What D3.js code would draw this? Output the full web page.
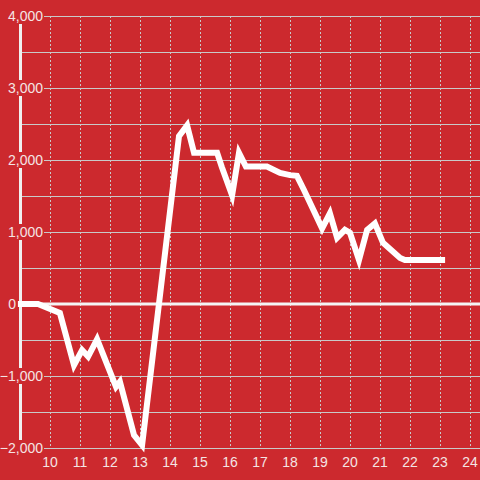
<!DOCTYPE html>
<html><head><meta charset="utf-8">
<script src="https://cdn.jsdelivr.net/npm/d3@7"></script>
<style>html,body{margin:0;padding:0;background:#cc292e;}svg{display:block;}</style>
</head><body>
<svg id="c" width="480" height="480"></svg>
<script>
const hours = [8.93, 9.6, 10.33, 10.8, 11.07, 11.27, 11.57, 12.2, 12.33, 12.8, 13.07, 14.3, 14.57, 14.8, 15.57, 15.73, 16.07, 16.3, 16.53, 17.23, 17.67, 18.0, 18.23, 18.47, 19.07, 19.33, 19.57, 19.83, 20.0, 20.3, 20.57, 20.83, 21.1, 21.67, 21.83, 23.17];
const values = [0, 0, -125, -850, -640, -730, -490, -1150, -1080, -1820, -1960, 2330, 2480, 2100, 2100, 1900, 1510, 2100, 1910, 1910, 1820, 1790, 1780, 1580, 1050, 1260, 920, 1030, 990, 610, 1030, 1120, 850, 640, 610, 610];
const xTicks = [10,11,12,13,14,15,16,17,18,19,20,21,22,23,24];
const yMajor = [-2000,-1000,0,1000,2000,3000,4000];
const yMinor = [-1500,-500,500,1500,2500,3500];

const svg = d3.select("#c");
const x = d3.scaleLinear().domain([10,24]).range([50,470]);
const y = d3.scaleLinear().domain([-2000,4000]).range([448,16]);
const grid = "#c9c9c9", txt = "#f4e4e4", bg = "#cc292e";

svg.append("rect").attr("width",480).attr("height",480).attr("fill",bg);

// vertical dashed gridlines
svg.append("g").selectAll("line").data(xTicks).join("line")
  .attr("x1",d=>x(d)+0.5).attr("x2",d=>x(d)+0.5).attr("y1",y(4000)).attr("y2",y(-2000))
  .attr("stroke",grid).attr("stroke-width",1).attr("stroke-dasharray","2,2");

// horizontal gridlines
svg.append("g").selectAll("line").data(yMajor.concat(yMinor).filter(d=>d!==0)).join("line")
  .attr("x1",20).attr("x2",480).attr("y1",d=>Math.round(y(d))+0.5).attr("y2",d=>Math.round(y(d))+0.5)
  .attr("stroke",grid).attr("stroke-width",1.2);

// y axis line
svg.append("line").attr("x1",20.5).attr("x2",20.5).attr("y1",y(4000)).attr("y2",y(-2000))
  .attr("stroke","#f0f0f0").attr("stroke-width",3);

// y labels with background
const yl = svg.append("g").selectAll("g").data(yMajor).join("g")
  .attr("transform",d=>`translate(0,${y(d)})`);
yl.filter(d=>d!==0).append("rect").attr("x",3).attr("y",-8).attr("width",41).attr("height",16).attr("fill",bg);
yl.filter(d=>d===0).append("rect").attr("x",3).attr("y",-8).attr("width",15).attr("height",16).attr("fill",bg);
yl.append("text").attr("x",d=>d===0?16:43).attr("y",0).attr("dy","0.35em").attr("text-anchor","end")
  .attr("font-family","Liberation Sans, Arial, sans-serif").attr("font-size",14).attr("fill",txt)
  .text(d=>d3.format(",")(d));

// zero line
svg.append("line").attr("x1",18).attr("x2",480).attr("y1",y(0)).attr("y2",y(0))
  .attr("stroke","#f4f4f4").attr("stroke-width",3);

// x labels
svg.append("g").selectAll("text").data(xTicks).join("text")
  .attr("x",d=>x(d)).attr("y",462).attr("dy","0.35em").attr("text-anchor","middle")
  .attr("font-family","Liberation Sans, Arial, sans-serif").attr("font-size",14).attr("fill",txt)
  .text(d=>d);

// data line
const pts = hours.map((h,i)=>[h,values[i]]);
svg.append("path").datum(pts)
  .attr("d",d3.line().x(d=>x(d[0])).y(d=>y(d[1])))
  .attr("fill","none").attr("stroke","#ffffff").attr("stroke-width",6)
  .attr("stroke-linejoin","miter").attr("stroke-linecap","butt");
</script>
</body></html>
